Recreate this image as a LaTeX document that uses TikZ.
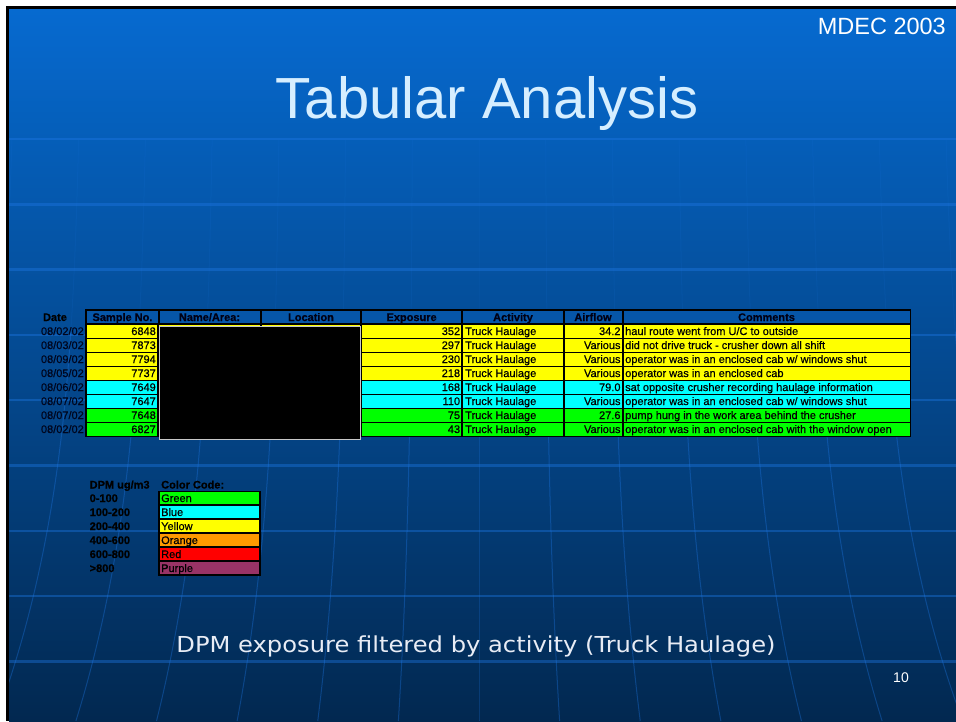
\documentclass[tikz,border=0pt]{standalone}
\usepackage{fontspec}
\setmainfont{Liberation Sans}
\newfontfamily\cellfont[FakeBold=0.5]{Liberation Sans}
\newfontfamily\hdrfont[FakeBold=0.5]{Liberation Sans Bold}
\newfontfamily\subfont[FakeStretch=1.1]{DejaVu Sans}
\definecolor{bgtop}{RGB}{6,106,208}
\definecolor{bgmid}{RGB}{5,84,168}
\definecolor{bgbot}{RGB}{2,40,80}
\definecolor{glow}{RGB}{30,120,230}
\definecolor{hdrblue}{RGB}{6,86,168}
\definecolor{hdrink}{RGB}{0,0,20}
\definecolor{dateink}{RGB}{0,6,30}
\definecolor{cyel}{RGB}{255,255,0}
\definecolor{ccyan}{RGB}{0,255,255}
\definecolor{cgreen}{RGB}{0,255,0}
\definecolor{corange}{RGB}{255,153,0}
\definecolor{cred}{RGB}{255,0,0}
\definecolor{cpurple}{RGB}{153,51,102}
\definecolor{titlec}{RGB}{214,238,255}
\definecolor{subc}{RGB}{232,236,245}
\tikzset{
  celltxt/.style={inner sep=0pt, font=\cellfont\fontsize{11}{13}\selectfont, text=black},
  hdrtxt/.style={inner sep=0pt, font=\hdrfont\fontsize{11}{13}\selectfont, text=hdrink, anchor=base},
  lgtxt/.style={inner sep=0pt, font=\hdrfont\fontsize{11}{13}\selectfont, text=black, anchor=base west},
  hline/.style={draw=glow, opacity=0.4, line width=2.5pt},
  meridianhi/.style={draw=glow, opacity=0.1, line width=1pt},
  meridianlo/.style={draw=glow, opacity=0.35, line width=1pt},
}
% row: index, date, sample, exposure, airflow, comment, colour
\newcommand\tabrow[7]{%
  \pgfmathsetmacro\ytop{325+14*#1}%
  \pgfmathsetmacro\ybot{337.5+14*#1}%
  \pgfmathsetmacro\ybase{335+14*#1}%
  \fill[#7] (87,\ytop) rectangle (157.3,\ybot);
  \fill[#7] (159.3,\ytop) rectangle (259.5,\ybot);
  \fill[#7] (261.5,\ytop) rectangle (360,\ybot);
  \fill[#7] (362,\ytop) rectangle (461.3,\ybot);
  \fill[#7] (463.3,\ytop) rectangle (563,\ybot);
  \fill[#7] (565,\ytop) rectangle (621.5,\ybot);
  \fill[#7] (623.5,\ytop) rectangle (909.5,\ybot);
  \node[celltxt, text=dateink, anchor=base east] (d#1) at (84,\ybase) {#2};
  \node[celltxt, anchor=base east] (s#1) at (156,\ybase) {#3};
  \node[celltxt, anchor=base east] (e#1) at (460.3,\ybase) {#4};
  \node[celltxt, anchor=base west] (a#1) at (465,\ybase) {Truck Haulage};
  \node[celltxt, anchor=base east] (f#1) at (620.7,\ybase) {#5};
  \node[celltxt, anchor=base west] (c#1) at (625,\ybase) {#6};
}
\newcommand\lgrow[4]{%
  \pgfmathsetmacro\ytop{492.3+14*#1}%
  \pgfmathsetmacro\ybot{504.3+14*#1}%
  \pgfmathsetmacro\ybase{502+14*#1}%
  \fill[#4] (160,\ytop) rectangle (259.3,\ybot);
  \node[lgtxt] (lr#1) at (89.5,\ybase) {#2};
  \node[celltxt, anchor=base west] (lc#1) at (161,\ybase) {#3};
}
\begin{document}
\begin{tikzpicture}[x=1pt,y=-1pt]
\useasboundingbox (0,0) rectangle (956,721);
% slide background
\fill[white] (0,0) rectangle (956,721);
\fill[black] (6,6) rectangle (956,721);
\shade[top color=bgtop, middle color=bgmid, bottom color=bgbot] (9,9) rectangle (956,721);
\begin{scope}
  \clip (9,9) rectangle (956,721);
  \foreach \yy in {139,204.3,269.6,334.9,400.2,465.5,530.8,596.1,661.4}
    \draw[hline] (9,\yy) -- (956,\yy);
  \foreach \k in {-7,...,7}{
    \draw[meridianhi] plot[variable=\t, domain=0:0.33, samples=12, smooth]
      ({479+69.5*\k*(0.96+0.04*\t+0.16*\t*\t*\t)}, {140+581*\t});
    \draw[meridianlo] plot[variable=\t, domain=0.33:1, samples=20, smooth]
      ({479+69.5*\k*(0.96+0.04*\t+0.16*\t*\t*\t)}, {140+581*\t});
  }
\end{scope}
% titles
\node[inner sep=0pt, anchor=base east, font=\fontsize{23.5}{27}\selectfont, text=white] (mdec) at (946,34) {MDEC 2003};
\node[inner sep=0pt, anchor=base, font=\fontsize{58}{63}\selectfont, text=titlec] (title) at (487,118) {Tabular Analysis};
% table frame and header
\fill[black] (85,308.5) rectangle (911.3,437);
\fill[hdrblue] (87,310.5) rectangle (158,323.2);
\fill[hdrblue] (160,310.5) rectangle (259.5,323.2);
\fill[hdrblue] (262,310.5) rectangle (360,323.2);
\fill[hdrblue] (362,310.5) rectangle (461.3,323.2);
\fill[hdrblue] (463.3,310.5) rectangle (563,323.2);
\fill[hdrblue] (565,310.5) rectangle (621.5,323.2);
\fill[hdrblue] (623.5,310.5) rectangle (909.5,323.2);
\node[hdrtxt, text=black] (hdate) at (55,321) {Date};
\node[hdrtxt] (hsn) at (122.5,321) {Sample No.};
\node[hdrtxt] (hna) at (209.5,321) {Name/Area:};
\node[hdrtxt] (hloc) at (311,321) {Location};
\node[hdrtxt] (hexp) at (411.6,321) {Exposure};
\node[hdrtxt] (hact) at (513,321) {Activity};
\node[hdrtxt] (hair) at (593,321) {Airflow};
\node[hdrtxt] (hcom) at (766.5,321) {Comments};
% rows
\tabrow{0}{08/02/02}{6848}{352}{34.2}{haul route went from U/C to outside}{cyel}
\tabrow{1}{08/03/02}{7873}{297}{Various}{did not drive truck - crusher down all shift}{cyel}
\tabrow{2}{08/09/02}{7794}{230}{Various}{operator was in an enclosed cab w/ windows shut}{cyel}
\tabrow{3}{08/05/02}{7737}{218}{Various}{operator was in an enclosed cab}{cyel}
\tabrow{4}{08/06/02}{7649}{168}{79.0}{sat opposite crusher recording haulage information}{ccyan}
\tabrow{5}{08/07/02}{7647}{110}{Various}{operator was in an enclosed cab w/ windows shut}{ccyan}
\tabrow{6}{08/07/02}{7648}{75}{27.6}{pump hung in the work area behind the crusher}{cgreen}
\tabrow{7}{08/02/02}{6827}{43}{Various}{operator was in an enclosed cab with the window open}{cgreen}
% redaction box
\node[draw={rgb,255:red,200;green,200;blue,200}, fill=black, line width=0.8pt, inner sep=0pt,
      minimum width=201pt, minimum height=112.5pt, anchor=north west] (redact) at (158.7,326.2) {};
% legend
\node[lgtxt] (lgh1) at (89.5,488.5) {DPM ug/m3};
\node[lgtxt] (lgh2) at (161,488.5) {Color Code:};
\fill[black] (158.3,490.7) rectangle (261,576);
\lgrow{0}{0-100}{Green}{cgreen}
\lgrow{1}{100-200}{Blue}{ccyan}
\lgrow{2}{200-400}{Yellow}{cyel}
\lgrow{3}{400-600}{Orange}{corange}
\lgrow{4}{600-800}{Red}{cred}
\lgrow{5}{>800}{Purple}{cpurple}
% caption and page number
\node[inner sep=0pt, anchor=base, font=\subfont\fontsize{22}{26}\selectfont, text=subc] (sub) at (476,652) {DPM exposure filtered by activity (Truck Haulage)};
\node[inner sep=0pt, anchor=base, font=\fontsize{14}{16}\selectfont, text=white] (pg) at (901,682) {10};
\end{tikzpicture}
\end{document}
